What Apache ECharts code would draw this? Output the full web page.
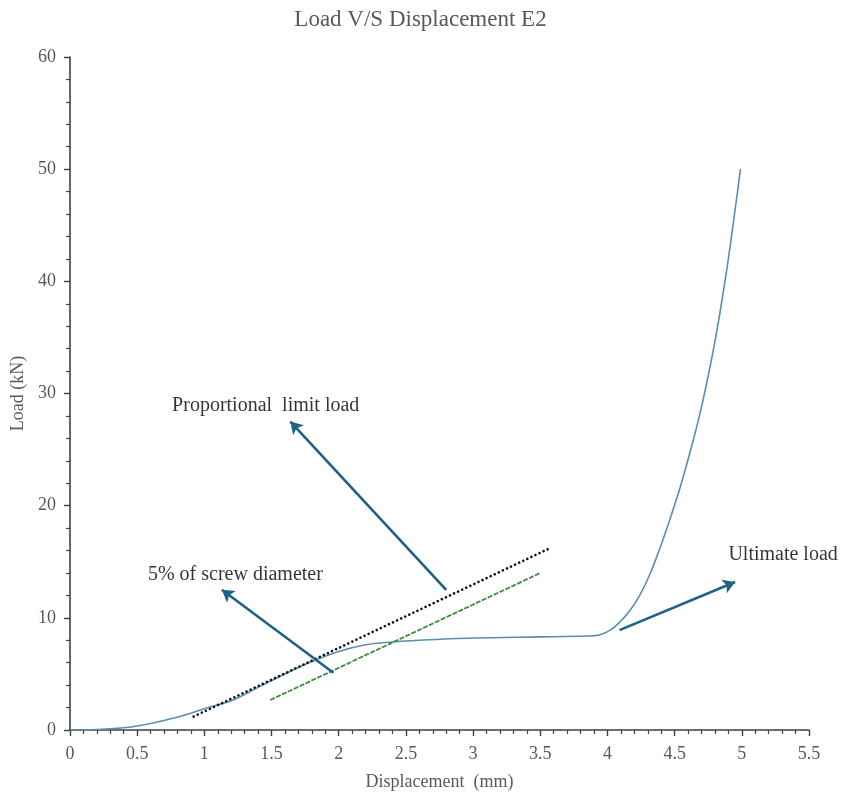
<!DOCTYPE html>
<html>
<head>
<meta charset="utf-8">
<title>Load V/S Displacement E2</title>
<script src="https://cdn.jsdelivr.net/npm/echarts@6/dist/echarts.min.js"></script>
<style>
  html, body { margin: 0; padding: 0; background: #ffffff; }
  #chart { width: 841px; height: 796px; }
</style>
</head>
<body>
<div id="chart"></div>
<script>
// Measured load-displacement response of specimen E2
const displacement = [0, 0.2, 0.4, 0.5, 0.7, 0.9, 1.0, 1.2, 1.4, 1.6, 1.8, 2.0, 2.2, 2.4, 2.6, 3.0, 3.5, 3.85,
  3.94, 4.02, 4.09, 4.17, 4.24, 4.32, 4.39, 4.44, 4.49, 4.54, 4.59, 4.64, 4.69, 4.74, 4.79, 4.84, 4.89, 4.94, 4.99];
const load = [0, 0.05, 0.2, 0.35, 0.85, 1.5, 1.9, 2.6, 3.8, 5.0, 6.1, 7.0, 7.6, 7.85, 8.0, 8.2, 8.3, 8.38,
  8.47, 8.9, 9.6, 10.7, 12.0, 14.0, 16.2, 17.9, 19.7, 21.6, 23.7, 25.9, 28.3, 31.0, 34.0, 37.4, 41.2, 45.5, 50.0];

// Initial stiffness line (proportional limit) and the same line offset by 5% of screw diameter
const proportionalLine = [[0.92, 1.2], [3.57, 16.2]];
const offsetLine = [[1.49, 2.67], [3.5, 14.0]];

// Annotation arrows: [tail, head] in displacement/load units
const arrowProportional = [[2.8, 12.5], [1.64, 27.5]];
const arrowOffset = [[1.96, 5.1], [1.13, 12.5]];
const arrowUltimate = [[4.09, 8.9], [4.95, 13.2]];

// Annotation texts and their anchor points (left edge, vertical middle)
const noteTexts = ['Proportional  limit load', '5% of screw diameter', 'Ultimate load'];
const noteAnchors = [[0.76, 28.95], [0.58, 13.8], [4.9, 15.6]];

// Axis ticks
const xTicks = { min: 0, max: 5.5, interval: 0.5 };
const yTicks = { min: 0, max: 60, interval: 10 };

const serif = "'Liberation Serif', 'Times New Roman', serif";
const axisGray = '#595959';
const arrowColor = '#1c6284';

const curve = displacement.map((d, i) => [d, load[i]]);

function arrowPair(pair) {
  return [{ coord: pair[0] }, { coord: pair[1] }];
}

const chart = echarts.init(document.getElementById('chart'), null, { renderer: 'canvas' });

chart.setOption({
  animation: false,
  backgroundColor: '#ffffff',
  title: {
    text: 'Load V/S Displacement E2',
    left: 'center',
    top: 3,
    textStyle: { fontFamily: serif, fontSize: 23, fontWeight: 'normal', color: axisGray }
  },
  grid: { left: 70, right: 32, top: 57, bottom: 66, containLabel: false, outerBoundsMode: 'none' },
  xAxis: {
    type: 'value',
    min: xTicks.min,
    max: xTicks.max,
    interval: xTicks.interval,
    name: 'Displacement  (mm)',
    nameLocation: 'middle',
    nameGap: 43,
    nameTextStyle: { fontFamily: serif, fontSize: 18, color: axisGray },
    axisLine: { show: true, onZero: false, lineStyle: { color: '#404040', width: 1.6 } },
    axisTick: { show: true, length: 6, lineStyle: { color: '#404040', width: 1.4 } },
    minorTick: { show: true, splitNumber: 5, length: 4, lineStyle: { color: '#404040', width: 1.2 } },
    splitLine: { show: false },
    axisLabel: {
      margin: 15,
      fontFamily: serif,
      fontSize: 18,
      color: axisGray,
      formatter: v => String(+v.toFixed(1))
    }
  },
  yAxis: {
    type: 'value',
    min: yTicks.min,
    max: yTicks.max,
    interval: yTicks.interval,
    name: 'Load (kN)',
    nameLocation: 'middle',
    nameGap: 41,
    nameTextStyle: { fontFamily: serif, fontSize: 18, color: axisGray },
    axisLine: { show: true, onZero: false, lineStyle: { color: '#404040', width: 1.6 } },
    axisTick: { show: true, length: 6, lineStyle: { color: '#404040', width: 1.4 } },
    minorTick: { show: true, splitNumber: 5, length: 4, lineStyle: { color: '#404040', width: 1.2 } },
    splitLine: { show: false },
    axisLabel: { margin: 14, fontFamily: serif, fontSize: 18, color: axisGray }
  },
  series: [
    {
      name: 'Load',
      type: 'line',
      data: curve,
      smooth: 0.3,
      showSymbol: false,
      lineStyle: { color: '#5a8fb0', width: 1.6 },
      z: 3
    },
    {
      name: 'Proportional limit',
      type: 'line',
      data: proportionalLine,
      showSymbol: false,
      lineStyle: { color: '#111111', width: 2.6, type: [0.1, 4.4], cap: 'round' },
      z: 4
    },
    {
      name: '5% offset',
      type: 'line',
      data: offsetLine,
      showSymbol: false,
      lineStyle: { color: '#3b8d3b', width: 1.8, type: [5, 1.5] },
      z: 4
    },
    {
      name: 'Arrows',
      type: 'line',
      data: [],
      markLine: {
        silent: true,
        symbol: ['none', 'arrow'],
        symbolSize: [11, 12],
        label: { show: false },
        lineStyle: { color: arrowColor, width: 2.6, type: 'solid' },
        data: [arrowPair(arrowProportional), arrowPair(arrowOffset), arrowPair(arrowUltimate)]
      },
      z: 5
    },
    {
      name: 'Notes',
      type: 'scatter',
      symbolSize: 0,
      silent: true,
      data: noteAnchors.map((p, i) => ({ value: p, name: noteTexts[i] })),
      label: {
        show: true,
        position: 'right',
        distance: 0,
        formatter: p => p.name,
        fontFamily: serif,
        fontSize: 20,
        color: '#000000'
      },
      z: 6
    }
  ]
});
</script>
</body>
</html>
